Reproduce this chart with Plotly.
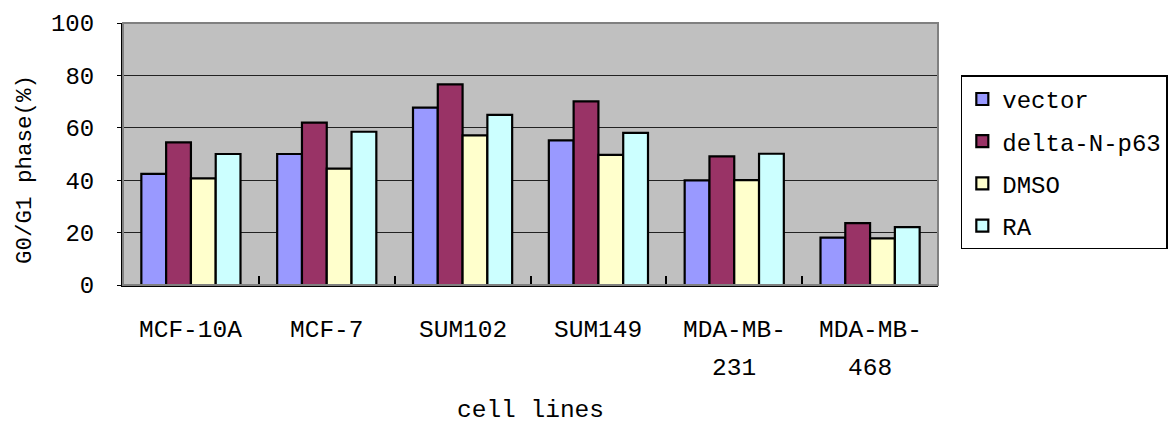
import plotly.graph_objects as go

categories = ["MCF-10A", "MCF-7", "SUM102", "SUM149", "MDA-MB-\n231", "MDA-MB-\n468"]
series_names = ["vector", "delta-N-p63", "DMSO", "RA"]
vector = [42.4, 50.0, 67.7, 55.2, 39.9, 18.1]
delta_n_p63 = [54.4, 62.0, 76.6, 70.1, 49.1, 23.6]
dmso = [40.7, 44.4, 57.1, 49.7, 40.0, 17.8]
ra = [50.0, 58.5, 64.9, 58.1, 50.1, 22.1]
y_ticks = [0, 20, 40, 60, 80, 100]

colors = ["#9999FF", "#993366", "#FFFFCC", "#CCFFFF"]
FONT = "Liberation Mono"

cat_keys = [c.replace("\n", " ") for c in categories]

fig = go.Figure()
for i, (name, vals) in enumerate(zip(series_names, [vector, delta_n_p63, dmso, ra])):
    fig.add_trace(go.Bar(
        x=cat_keys, y=vals, name=name, legendgroup=name,
        marker=dict(color=colors[i], line=dict(color="black", width=2.2)),
    ))

# category labels (multi-line with wide spacing)
for key, lab in zip(cat_keys, categories):
    lines = lab.split("\n")
    for j, ln in enumerate(lines):
        fig.add_annotation(x=key, xref="x", y=-0.172 - 0.145 * j, yref="paper",
                           text=ln, showarrow=False, yanchor="middle",
                           font=dict(family=FONT, size=24.5, color="black"))

fig.add_annotation(x=0.5, xref="paper", y=-0.48, yref="paper", text="cell lines",
                   showarrow=False, yanchor="middle",
                   font=dict(family=FONT, size=24.5, color="black"))
fig.add_annotation(x=-0.121, xref="paper", y=0.44, yref="paper", text="G0/G1 phase(%)",
                   showarrow=False, textangle=-90, xanchor="center", yanchor="middle",
                   font=dict(family=FONT, size=22.5, color="black"))

fig.add_shape(type="rect", xref="paper", yref="paper", x0=0, y0=0, x1=1, y1=1,
              line=dict(color="#808080", width=2), layer="above")

fig.update_layout(
    width=1171, height=426,
    margin=dict(l=123, r=233, t=23, b=141, autoexpand=False),
    paper_bgcolor="white", plot_bgcolor="#C0C0C0",
    barmode="group", bargap=0.27, bargroupgap=0,
    font=dict(family=FONT, size=24, color="black"),
    showlegend=True,
    legend=dict(x=1.028, xanchor="left", y=0.80, yanchor="top",
                bgcolor="white", bordercolor="black", borderwidth=1.5,
                font=dict(family=FONT, size=24, color="black"),
                tracegroupgap=8, itemwidth=30),
    xaxis=dict(showticklabels=False, ticks="inside", tickson="boundaries",
               ticklen=9, tickwidth=1.5, tickcolor="black", automargin=False,
               showline=True, linecolor="black", linewidth=2, showgrid=False),
    yaxis=dict(range=[0, 100], tickvals=y_ticks, ticks="outside", ticklen=4,
               tickcolor="black", showline=True, linecolor="black", linewidth=2,
               showgrid=True, gridcolor="#222222", gridwidth=1, automargin=False,
               ticklabelstandoff=18, zeroline=False,
               tickfont=dict(family=FONT, size=24, color="black")),
)

fig.write_html("out.html", config={"displayModeBar": False},
               post_script="document.body.style.margin='0';document.body.style.overflow='hidden';")
